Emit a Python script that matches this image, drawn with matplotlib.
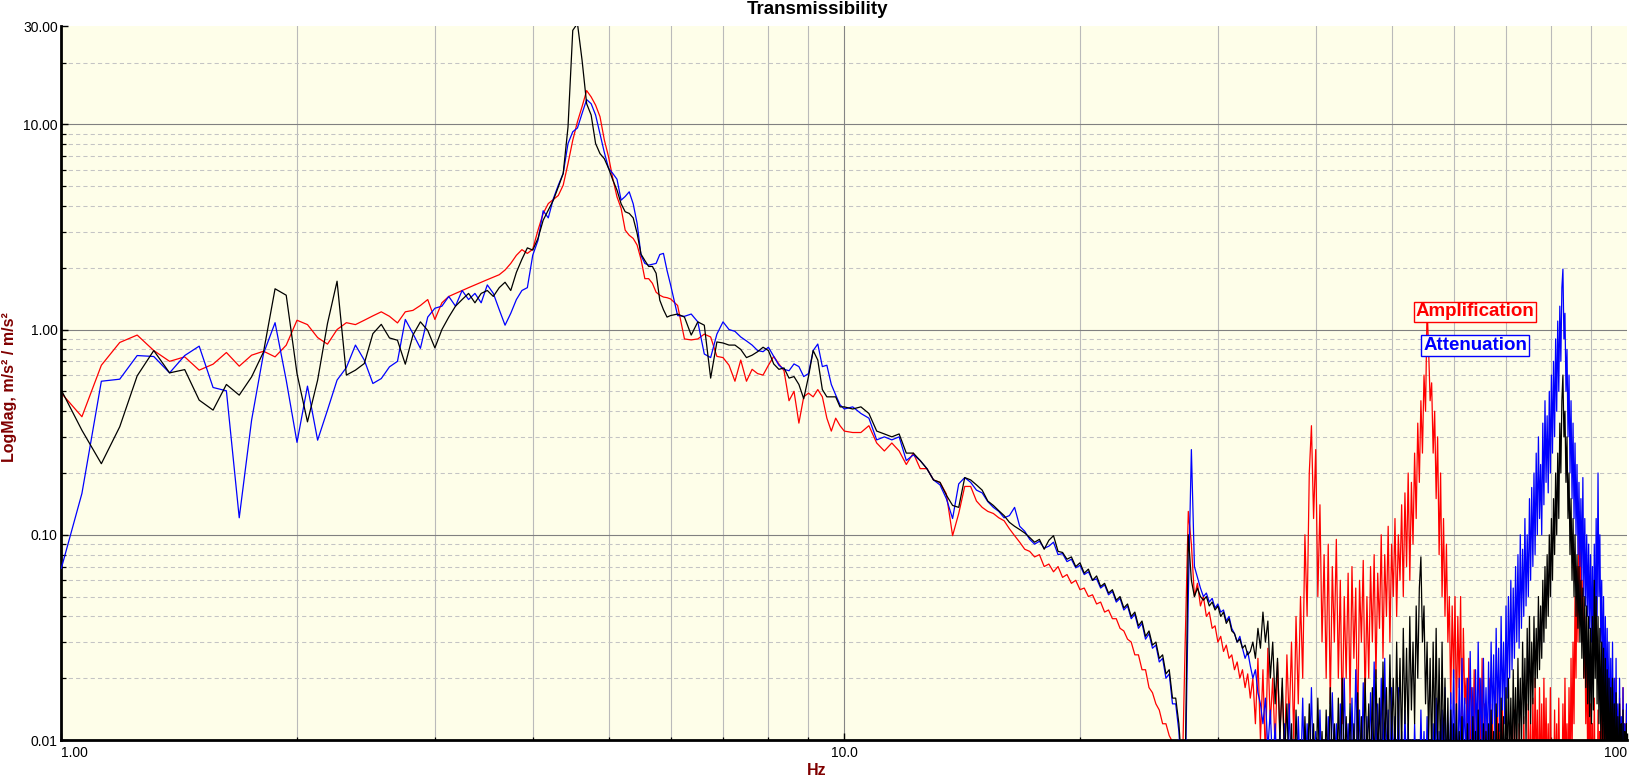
import numpy as np
import matplotlib
matplotlib.use("Agg")
import matplotlib.pyplot as plt
from matplotlib.ticker import NullFormatter

plt.rcParams['font.family'] = ['Liberation Sans', 'DejaVu Sans']

# frequency bands of the spectra: (first bin in Hz, bin width in Hz)
band_lo = (1.0, 0.0625)    # 1 .. 6 Hz
band_mid = (6.125, 0.125)  # 6 .. 10 Hz
band_hi = (10.25, 0.25)    # 10 .. 100 Hz

# ---- Amplification (red) ----
red_lo = [0.49, 0.376, 0.67, 0.865, 0.94, 0.79, 0.70, 0.736, 0.634, 0.678, 0.773, 0.663, 0.75, 0.784, 0.736, 0.839,
          1.11, 1.057, 0.914, 0.849, 1.0, 1.08, 1.057, 1.11, 1.166, 1.22, 1.16, 1.077, 1.22, 1.24, 1.31, 1.40, 1.12,
          1.35, 1.45, 1.5, 1.55, 1.6, 1.65, 1.7, 1.75, 1.8, 1.85, 1.95, 2.1, 2.3, 2.45, 2.35, 2.46,
          3.05, 3.68, 4.11, 4.3, 4.5, 5.05, 6.44, 8.37, 10.3, 12.2, 14.6, 13.6, 12.4, 10.9, 8.4, 6.93,
          5.44, 4.43, 3.9, 3.05, 2.88, 2.78, 2.58, 2.2, 1.77, 1.77, 1.68, 1.52, 1.47, 1.44, 1.43, 1.41]
red_mid = [1.31, 0.90, 0.89, 0.90, 0.95, 0.92, 0.74, 0.73, 0.67, 0.56, 0.71, 0.56, 0.64, 0.61, 0.60, 0.67,
           0.74, 0.68, 0.63, 0.45, 0.50, 0.35, 0.47, 0.49, 0.47, 0.51, 0.47, 0.37, 0.32, 0.37, 0.34, 0.32]
red_hi = [
    # 10.25 - 17
    0.315, 0.315, 0.34, 0.28, 0.256, 0.28, 0.256, 0.22, 0.25, 0.21, 0.21, 0.185, 0.18, 0.158, 0.099, 0.127,
    0.172, 0.172, 0.146, 0.136, 0.13, 0.127, 0.121, 0.117, 0.107, 0.099, 0.092, 0.085,
    # 17.25 - 21
    0.083, 0.078, 0.08, 0.07, 0.072, 0.066, 0.07, 0.062, 0.064, 0.058, 0.06, 0.054, 0.055, 0.05, 0.051, 0.046,
    # 21.25 - 27
    0.047, 0.042, 0.043, 0.039, 0.039, 0.035, 0.034, 0.031, 0.03, 0.026, 0.026, 0.022, 0.022, 0.018, 0.017, 0.015,
    0.014, 0.012, 0.012, 0.0105, 0.0098, 0.006, 0.005, 0.006,
    # 27.25 - 30
    0.03, 0.13, 0.09, 0.05, 0.058, 0.045, 0.05, 0.04, 0.042, 0.035, 0.036, 0.03,
    # 30.25 - 33
    0.032, 0.027, 0.029, 0.025, 0.026, 0.022, 0.024, 0.02, 0.022, 0.018, 0.021, 0.016,
    # 33.25 - 36
    0.02, 0.012, 0.025, 0.01, 0.022, 0.008, 0.028, 0.012, 0.02, 0.009, 0.024, 0.011,
    # 36.25 - 38
    0.018, 0.008, 0.026, 0.012, 0.03, 0.01, 0.04, 0.015,
    # 38.25 - 41
    0.05, 0.02, 0.1, 0.04, 0.2, 0.34, 0.12, 0.26, 0.05, 0.14, 0.03, 0.08,
    # 41.25 - 44
    0.02, 0.09, 0.015, 0.07, 0.03, 0.095, 0.02, 0.06, 0.012, 0.05, 0.02, 0.065,
    # 44.25 - 47
    0.015, 0.07, 0.025, 0.055, 0.01, 0.06, 0.03, 0.075, 0.015, 0.05, 0.02, 0.07,
    # 47.25 - 50
    0.03, 0.08, 0.02, 0.065, 0.035, 0.1, 0.025, 0.08, 0.04, 0.11, 0.03, 0.09,
    # 50.25 - 53
    0.05, 0.12, 0.04, 0.1, 0.06, 0.14, 0.05, 0.16, 0.07, 0.2, 0.06, 0.18,
    # 53.25 - 56
    0.09, 0.25, 0.12, 0.35, 0.18, 0.45, 0.25, 0.6, 0.4, 1.3, 0.8, 0.45,
    # 56.25 - 59
    0.55, 0.25, 0.4, 0.15, 0.3, 0.08, 0.2, 0.05, 0.12, 0.04, 0.09, 0.03,
    # 59.25 - 62
    0.05, 0.015, 0.045, 0.02, 0.05, 0.012, 0.04, 0.018, 0.05, 0.01, 0.035, 0.015,
    # 62.25 - 66
    0.02, 0.008, 0.025, 0.006, 0.018, 0.01, 0.022, 0.006, 0.015, 0.005, 0.02, 0.008, 0.025, 0.006, 0.015, 0.007,
    # 66.25 - 70
    0.012, 0.005, 0.02, 0.006, 0.015, 0.005, 0.01, 0.004, 0.018, 0.006, 0.012, 0.005, 0.016, 0.006, 0.01, 0.005,
    # 70.25 - 75
    0.008, 0.004, 0.012, 0.005, 0.01, 0.004, 0.014, 0.006, 0.009, 0.004, 0.012, 0.005, 0.01, 0.004, 0.013, 0.006,
    0.009, 0.004, 0.015, 0.006,
    # 75.25 - 80
    0.012, 0.005, 0.016, 0.006, 0.02, 0.007, 0.014, 0.005, 0.018, 0.006, 0.015, 0.005, 0.02, 0.007, 0.016, 0.006,
    0.012, 0.005, 0.018, 0.006,
    # 80.25 - 85
    0.01, 0.005, 0.014, 0.006, 0.012, 0.005, 0.016, 0.006, 0.01, 0.005, 0.015, 0.006, 0.02, 0.007, 0.012, 0.005,
    0.018, 0.006, 0.025, 0.008,
    # 85.25 - 90
    0.03, 0.012, 0.05, 0.02, 0.07, 0.03, 0.13, 0.05, 0.09, 0.03, 0.06, 0.02, 0.04, 0.012, 0.025, 0.008,
    0.02, 0.006, 0.015, 0.005,
    # 90.25 - 95
    0.012, 0.004, 0.016, 0.005, 0.01, 0.004, 0.014, 0.005, 0.011, 0.004, 0.015, 0.005, 0.012, 0.004, 0.018, 0.006,
    0.01, 0.004, 0.014, 0.005,
    # 95.25 - 100
    0.012, 0.005, 0.018, 0.006, 0.015, 0.005, 0.02, 0.007, 0.012, 0.004, 0.016, 0.006, 0.01, 0.004, 0.018, 0.006,
    0.012, 0.005, 0.014, 0.006,
]

# ---- Attenuation (blue) ----
blue_lo = [0.0686, 0.159, 0.56, 0.573, 0.747, 0.739, 0.615, 0.747, 0.83, 0.522, 0.503, 0.121, 0.362, 0.764, 1.08, 0.567,
           0.282, 0.53, 0.289, 0.405, 0.567, 0.653, 0.84, 0.71, 0.546, 0.577, 0.658, 0.70, 1.12, 0.956, 0.81, 1.15, 1.27,
           1.3, 1.45, 1.3, 1.55, 1.4, 1.5, 1.35, 1.65, 1.5, 1.25, 1.05, 1.2, 1.4, 1.55, 1.6, 2.3,
           2.72, 3.79, 3.5, 4.34, 5.05, 5.76, 8.06, 9.2, 9.6, 11.3, 13.2, 12.6, 11.1, 9.0, 7.3, 6.1,
           5.76, 5.4, 4.27, 4.45, 4.69, 4.1, 3.29, 2.3, 2.1, 2.06, 2.08, 2.1, 2.32, 2.35, 1.94, 1.65]
blue_mid = [1.17, 1.16, 1.19, 1.09, 0.76, 0.73, 0.95, 1.09, 1.0, 0.98, 0.92, 0.88, 0.84, 0.79, 0.78, 0.82,
            0.74, 0.67, 0.64, 0.63, 0.68, 0.66, 0.59, 0.61, 0.79, 0.85, 0.66, 0.67, 0.54, 0.48, 0.43, 0.41]
blue_hi = [
    # 10.25 - 17
    0.42, 0.39, 0.37, 0.29, 0.30, 0.29, 0.30, 0.23, 0.245, 0.23, 0.21, 0.185, 0.175, 0.15, 0.12, 0.177,
    0.19, 0.18, 0.165, 0.16, 0.145, 0.136, 0.13, 0.121, 0.124, 0.136, 0.11, 0.104,
    # 17.25 - 21
    0.095, 0.09, 0.093, 0.086, 0.088, 0.092, 0.08, 0.081, 0.074, 0.076, 0.069, 0.071, 0.064, 0.066, 0.06, 0.061,
    # 21.25 - 27
    0.055, 0.057, 0.051, 0.053, 0.047, 0.049, 0.043, 0.045, 0.039, 0.041, 0.035, 0.037, 0.031, 0.033, 0.028, 0.029,
    0.024, 0.025, 0.02, 0.021, 0.015, 0.015, 0.011, 0.006,
    # 27.25 - 30
    0.006, 0.05, 0.26, 0.07, 0.062, 0.055, 0.05, 0.052, 0.047, 0.049, 0.044, 0.046,
    # 30.25 - 33
    0.042, 0.043, 0.038, 0.04, 0.035, 0.033, 0.03, 0.032, 0.028, 0.025, 0.027, 0.023,
    # 33.25 - 36
    0.02, 0.022, 0.017, 0.015, 0.012, 0.016, 0.009, 0.014, 0.007, 0.012, 0.006, 0.011,
    # 36.25 - 38
    0.006, 0.012, 0.005, 0.015, 0.006, 0.01, 0.005, 0.013,
    # 38.25 - 41
    0.006, 0.016, 0.005, 0.012, 0.007, 0.018, 0.006, 0.011, 0.005, 0.014, 0.006, 0.01,
    # 41.25 - 44
    0.005, 0.013, 0.006, 0.017, 0.007, 0.012, 0.005, 0.015, 0.006, 0.02, 0.007, 0.012,
    # 44.25 - 47
    0.006, 0.016, 0.007, 0.022, 0.008, 0.014, 0.006, 0.019, 0.007, 0.013, 0.006, 0.017,
    # 47.25 - 50
    0.008, 0.024, 0.009, 0.015, 0.006, 0.02, 0.007, 0.025, 0.008, 0.014, 0.006, 0.018,
    # 50.25 - 53
    0.007, 0.013, 0.005, 0.018, 0.006, 0.011, 0.005, 0.014, 0.006, 0.012, 0.005, 0.01,
    # 53.25 - 56
    0.005, 0.012, 0.006, 0.01, 0.005, 0.014, 0.006, 0.011, 0.005, 0.013, 0.006, 0.01,
    # 56.25 - 59
    0.005, 0.012, 0.006, 0.016, 0.007, 0.011, 0.005, 0.014, 0.006, 0.018, 0.007, 0.012,
    # 59.25 - 62
    0.006, 0.017, 0.008, 0.022, 0.007, 0.015, 0.006, 0.02, 0.008, 0.025, 0.009, 0.016,
    # 62.25 - 66
    0.007, 0.02, 0.008, 0.027, 0.01, 0.018, 0.007, 0.022, 0.009, 0.03, 0.01, 0.02, 0.008, 0.025, 0.01, 0.018,
    # 66.25 - 70
    0.009, 0.024, 0.01, 0.03, 0.012, 0.026, 0.01, 0.035, 0.013, 0.028, 0.011, 0.04, 0.014, 0.03, 0.012, 0.045,
    # 70.25 - 75
    0.016, 0.05, 0.02, 0.06, 0.022, 0.055, 0.025, 0.07, 0.03, 0.08, 0.028, 0.1, 0.035, 0.085, 0.04, 0.12,
    0.045, 0.1, 0.05, 0.15,
    # 75.25 - 80
    0.06, 0.17, 0.07, 0.2, 0.08, 0.25, 0.1, 0.3, 0.12, 0.22, 0.1, 0.35, 0.14, 0.45, 0.18, 0.38,
    0.16, 0.5, 0.2, 0.6,
    # 80.25 - 85
    0.25, 0.7, 0.3, 0.9, 0.4, 1.1, 0.5, 1.3, 0.7, 1.6, 1.97, 0.9, 1.2, 0.5, 0.8, 0.3,
    0.6, 0.2, 0.45, 0.15,
    # 85.25 - 90
    0.35, 0.12, 0.28, 0.1, 0.22, 0.08, 0.18, 0.07, 0.15, 0.06, 0.19, 0.05, 0.12, 0.045, 0.1, 0.04,
    0.09, 0.035, 0.08, 0.03,
    # 90.25 - 95
    0.07, 0.025, 0.09, 0.03, 0.12, 0.04, 0.2, 0.05, 0.1, 0.03, 0.06, 0.02, 0.05, 0.015, 0.04, 0.012,
    0.035, 0.01, 0.03, 0.008,
    # 95.25 - 100
    0.025, 0.008, 0.03, 0.007, 0.02, 0.006, 0.025, 0.007, 0.015, 0.005, 0.02, 0.006, 0.013, 0.005, 0.018, 0.006,
    0.012, 0.005, 0.015, 0.006,
]

# ---- third measurement (black) ----
black_lo = [0.507, 0.323, 0.222, 0.336, 0.595, 0.79, 0.615, 0.638, 0.453, 0.405, 0.54, 0.479, 0.588, 0.778, 1.58, 1.47,
            0.61, 0.355, 0.567, 1.07, 1.72, 0.60, 0.634, 0.683, 0.955, 1.06, 0.91, 0.887, 0.678, 0.94, 1.09, 0.99, 0.814,
            1.0, 1.15, 1.3, 1.4, 1.5, 1.35, 1.5, 1.55, 1.45, 1.6, 1.7, 1.55, 1.9, 2.2, 2.5, 2.44,
            2.78, 3.41, 3.82, 4.27, 4.95, 5.76, 9.7, 28.7, 31.0, 20.5, 12.6, 11.1, 8.06, 7.2, 6.8, 6.1,
            5.35, 4.78, 4.1, 3.75, 3.68, 3.5, 2.94, 2.33, 2.17, 2.03, 2.03, 1.88, 1.39, 1.25, 1.15, 1.17]
black_mid = [1.19, 1.15, 0.94, 1.09, 1.05, 0.58, 0.87, 0.86, 0.84, 0.84, 0.80, 0.73, 0.75, 0.78, 0.82, 0.79,
             0.68, 0.64, 0.65, 0.58, 0.59, 0.54, 0.46, 0.59, 0.79, 0.71, 0.51, 0.47, 0.47, 0.47, 0.42, 0.42]
black_hi = [
    # 10.25 - 17
    0.41, 0.42, 0.39, 0.32, 0.31, 0.30, 0.31, 0.25, 0.25, 0.23, 0.21, 0.185, 0.18, 0.156, 0.139, 0.136,
    0.19, 0.185, 0.175, 0.165, 0.146, 0.139, 0.131, 0.124, 0.115, 0.110, 0.106, 0.102,
    # 17.25 - 21
    0.097, 0.092, 0.095, 0.085, 0.094, 0.099, 0.083, 0.082, 0.076, 0.078, 0.07, 0.073, 0.065, 0.068, 0.06, 0.063,
    # 21.25 - 27
    0.056, 0.058, 0.052, 0.054, 0.048, 0.05, 0.044, 0.046, 0.04, 0.042, 0.036, 0.038, 0.032, 0.034, 0.029, 0.03,
    0.025, 0.026, 0.021, 0.022, 0.016, 0.016, 0.012, 0.007,
    # 27.25 - 30
    0.007, 0.1, 0.06, 0.05, 0.055, 0.05, 0.048, 0.05, 0.045, 0.047, 0.043, 0.045,
    # 30.25 - 33
    0.04, 0.042, 0.037, 0.039, 0.034, 0.033, 0.03, 0.031, 0.028, 0.029, 0.026, 0.027,
    # 33.25 - 36
    0.03, 0.025, 0.035, 0.028, 0.042, 0.03, 0.038, 0.02, 0.03, 0.015, 0.025, 0.01,
    # 36.25 - 38
    0.02, 0.008, 0.015, 0.006, 0.012, 0.005, 0.014, 0.006,
    # 38.25 - 41
    0.01, 0.005, 0.013, 0.006, 0.015, 0.007, 0.012, 0.005, 0.016, 0.006, 0.011, 0.005,
    # 41.25 - 44
    0.014, 0.006, 0.018, 0.007, 0.012, 0.005, 0.016, 0.006, 0.02, 0.007, 0.013, 0.006,
    # 44.25 - 47
    0.015, 0.006, 0.012, 0.005, 0.017, 0.007, 0.013, 0.006, 0.02, 0.008, 0.015, 0.006,
    # 47.25 - 50
    0.018, 0.007, 0.022, 0.008, 0.016, 0.006, 0.024, 0.009, 0.018, 0.007, 0.026, 0.01,
    # 50.25 - 53
    0.02, 0.008, 0.03, 0.01, 0.025, 0.009, 0.035, 0.012, 0.028, 0.01, 0.04, 0.014,
    # 53.25 - 56
    0.03, 0.012, 0.045, 0.02, 0.055, 0.078, 0.03, 0.045, 0.015, 0.03, 0.01, 0.025,
    # 56.25 - 59
    0.008, 0.03, 0.01, 0.035, 0.009, 0.025, 0.007, 0.03, 0.008, 0.02, 0.006, 0.016,
    # 59.25 - 62
    0.006, 0.014, 0.005, 0.012, 0.006, 0.015, 0.005, 0.011, 0.006, 0.013, 0.005, 0.01,
    # 62.25 - 66
    0.005, 0.012, 0.006, 0.01, 0.005, 0.013, 0.006, 0.011, 0.005, 0.014, 0.006, 0.01, 0.005, 0.012, 0.006, 0.011,
    # 66.25 - 70
    0.005, 0.012, 0.006, 0.014, 0.006, 0.011, 0.005, 0.015, 0.006, 0.012, 0.005, 0.016, 0.007, 0.013, 0.006, 0.018,
    # 70.25 - 75
    0.007, 0.02, 0.008, 0.016, 0.007, 0.022, 0.009, 0.018, 0.008, 0.025, 0.01, 0.02, 0.009, 0.03, 0.012, 0.025,
    0.01, 0.035, 0.014, 0.04,
    # 75.25 - 80
    0.012, 0.03, 0.015, 0.04, 0.018, 0.035, 0.02, 0.05, 0.022, 0.045, 0.025, 0.06, 0.03, 0.07, 0.035, 0.08,
    0.04, 0.1, 0.05, 0.12,
    # 80.25 - 85
    0.06, 0.15, 0.08, 0.2, 0.1, 0.25, 0.12, 0.35, 0.2, 0.45, 0.6, 0.3, 0.4, 0.18, 0.3, 0.12,
    0.2, 0.08, 0.15, 0.06,
    # 85.25 - 90
    0.12, 0.05, 0.1, 0.04, 0.08, 0.035, 0.07, 0.03, 0.06, 0.025, 0.055, 0.02, 0.05, 0.018, 0.045, 0.015,
    0.04, 0.013, 0.035, 0.012,
    # 90.25 - 95
    0.04, 0.014, 0.06, 0.02, 0.05, 0.015, 0.04, 0.012, 0.035, 0.01, 0.03, 0.009, 0.028, 0.008, 0.025, 0.007,
    0.022, 0.007, 0.02, 0.006,
    # 95.25 - 100
    0.018, 0.006, 0.02, 0.006, 0.015, 0.005, 0.017, 0.006, 0.013, 0.005, 0.015, 0.005, 0.012, 0.005, 0.014, 0.005,
    0.011, 0.005, 0.012, 0.005,
]

x_ticks = [1, 10, 100]
x_ticklabels = ['1.00', '10.0', '100']
y_ticks = [0.01, 0.1, 1, 10, 30]
y_ticklabels = ['0.01', '0.10', '1.00', '10.00', '30.00']


def spectrum(lo, mid, hi):
    parts_f = []
    for (start, step), vals in ((band_lo, lo), (band_mid, mid), (band_hi, hi)):
        parts_f.append(start + step * np.arange(len(vals)))
    return np.concatenate(parts_f), np.array(lo + mid + hi)


W, H = 1629, 778
fig = plt.figure(figsize=(W / 100, H / 100), dpi=100)
ax = fig.add_axes([61.3 / W, 38 / H, 1566 / W, 713.6 / H])
ax.set_facecolor('#fefee9')
ax.set_xscale('log')
ax.set_yscale('log')

# grid drawn by hand so nothing lands on the top edge
x_minor = [m * d for d in (1, 10) for m in range(2, 10)]
y_minor = [m * d for d in (0.01, 0.1, 1) for m in range(2, 10)] + [20]
for xv in x_minor:
    ax.axvline(xv, color='#bababa', lw=0.8, zorder=0.5)
ax.axvline(10, color='#858585', lw=0.8, zorder=0.6)
for yv in y_minor:
    ax.axhline(yv, color='#c4c4c4', lw=0.75, ls=(0, (4, 3)), zorder=0.5)
for yv in (0.1, 1, 10):
    ax.axhline(yv, color='#808080', lw=0.8, zorder=0.6)

for (lo, mid, hi), col, z in (((red_lo, red_mid, red_hi), '#ff0000', 2),
                              ((blue_lo, blue_mid, blue_hi), '#0000ff', 3),
                              ((black_lo, black_mid, black_hi), '#000000', 4)):
    f, v = spectrum(lo, mid, hi)
    ax.plot(f, v, color=col, lw=0.9, zorder=z)

ax.set_xlim(1, 100)
ax.set_ylim(0.01, 30)
ax.set_xticks(x_ticks)
ax.set_xticklabels(x_ticklabels)
ax.set_xticks(x_minor, minor=True)
ax.xaxis.set_minor_formatter(NullFormatter())
ax.set_yticks(y_ticks)
ax.set_yticklabels(y_ticklabels)
ax.set_yticks(y_minor, minor=True)
ax.yaxis.set_minor_formatter(NullFormatter())

ax.tick_params(which='both', direction='in', colors='black', top=False, right=False)
ax.tick_params(axis='y', which='major', length=5, width=1, pad=2.5, labelsize=10)
ax.tick_params(axis='y', which='minor', length=3.6, width=0.9)
ax.tick_params(axis='x', which='major', length=5, width=1, pad=4.5, labelsize=10)
ax.tick_params(axis='x', which='minor', length=2.5, width=0.9)
xl = ax.get_xticklabels()
xl[0].set_ha('left')
xl[-1].set_ha('right')

for s in ('top', 'right'):
    ax.spines[s].set_visible(False)
for s in ('left', 'bottom'):
    ax.spines[s].set_linewidth(2)
    ax.spines[s].set_color('black')

ax.text(0.9028, 0.5998, 'Amplification', transform=ax.transAxes, ha='center', va='center',
        color='#ff0000', fontsize=13.5, fontweight='bold', zorder=6,
        bbox=dict(boxstyle='square,pad=0.1', fc='#fffff4', ec='#ff0000', lw=1))
ax.text(0.9028, 0.5528, 'Attenuation', transform=ax.transAxes, ha='center', va='center',
        color='#0000ff', fontsize=13.5, fontweight='bold', zorder=6,
        bbox=dict(boxstyle='square,pad=0.1', fc='#fffff4', ec='#0000ff', lw=1))

fig.text(817 / W, 1 - 14 / H, 'Transmissibility', ha='center', va='baseline',
         fontsize=13.5, fontweight='bold')
fig.text(817 / W, 1 - 775 / H, 'Hz', ha='center', va='baseline',
         fontsize=11.5, fontweight='bold', color='#800000')
fig.text(10 / W, 1 - 387 / H, 'LogMag, m/s\u00b2 / m/s\u00b2', rotation=90, ha='center', va='center',
         fontsize=11.5, fontweight='bold', color='#800000')

fig.savefig('out.png', dpi=100)
